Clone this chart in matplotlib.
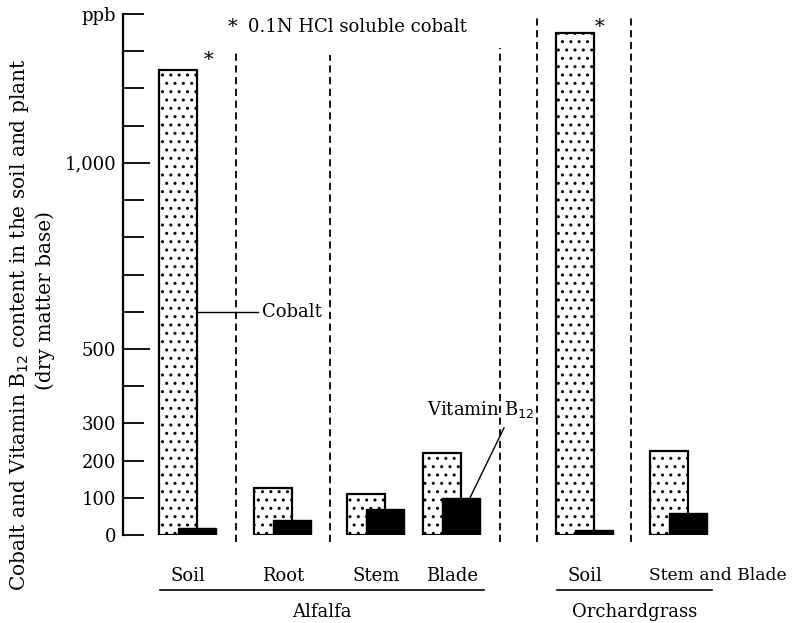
import matplotlib
matplotlib.use("Agg")
import matplotlib.pyplot as plt

plt.rcParams['font.family'] = ['DejaVu Serif']
plt.rcParams['hatch.linewidth'] = 1.0

# cobalt and vitamin B12 (ppb, dry matter base)
parts = ['Soil', 'Root', 'Stem', 'Blade', 'Soil', 'Stem and Blade']
cobalt = [1250, 125, 110, 220, 1350, 225]
vit_b12 = [20, 40, 70, 100, 13, 60]

# layout (horizontal units, axis starts at 0)
bar_left = [36, 131, 224, 300, 433, 527]
bar_w = 38
label_x = [65, 160, 253, 329, 462, 526]
separators = [(113, 1303), (207, 1290), (377, 1309), (414, 1400), (508, 1400)]

fig = plt.figure(figsize=(7.94, 6.23), dpi=100)
ax = fig.add_axes([123 / 794, (623 - 535) / 623, 671 / 794, 521 / 623])
ax.set_xlim(0, 671)
ax.set_ylim(0, 1400)

for x, c, v in zip(bar_left, cobalt, vit_b12):
    ax.bar(x, c, width=bar_w, align='edge', facecolor='white',
           edgecolor='black', linewidth=1.6, hatch='..', zorder=2)
    ax.bar(x + bar_w / 2, v, width=bar_w, align='edge', facecolor='black',
           edgecolor='black', linewidth=1.0, zorder=3)

for xs, top in separators:
    ax.plot([xs, xs], [-20, top], color='black', lw=1.3,
            dashes=(4, 2.5), clip_on=False, zorder=1)

for s in ['top', 'right', 'bottom']:
    ax.spines[s].set_visible(False)
ax.spines['left'].set_linewidth(1.6)

ax.set_yticks([500, 1000], labels=['500', '1,000'])
ax.set_yticks([0, 100, 200, 300, 400, 600, 700, 800, 900, 1100, 1200, 1300, 1400],
              labels=['0', '100', '200', '300', '', '', '', '', '', '', '', '', 'ppb'],
              minor=True)
ax.tick_params(axis='y', which='major', direction='in', length=19.5,
               width=1.3, pad=5, labelsize=13)
ax.tick_params(axis='y', which='minor', direction='in', length=15,
               width=1.3, pad=5, labelsize=13)

ax.set_xticks(label_x, labels=parts)
ax.tick_params(axis='x', length=0, pad=23, labelsize=13)
last = ax.get_xticklabels()[5]
last.set_ha('left')
last.set_fontsize(12.3)

# y-axis title in two lines
fig.text(20 / 794, 1 - 325 / 623, 'Cobalt and Vitamin B$_{12}$ content in the soil and plant',
         rotation=90, ha='center', va='center', fontsize=14.5)
fig.text(45 / 794, 1 - 300 / 623, '(dry matter base)',
         rotation=90, ha='center', va='center', fontsize=14.5)

# crop groups under the category labels
xt = ax.get_xaxis_transform()
for x0, x1, name in [(37, 361, 'Alfalfa'), (434, 589, 'Orchardgrass')]:
    ax.plot([x0, x1], [-0.106, -0.106], color='black', lw=1.2,
            transform=xt, clip_on=False)
    ax.text((x0 + x1) / 2, -0.148, name, transform=xt, ha='center',
            va='center', fontsize=13)

# asterisks and note
ax.text(86, 1276, '*', fontsize=14, ha='center', va='center')
ax.text(477, 1365, '*', fontsize=14, ha='center', va='center')
ax.text(110, 1365, '*', fontsize=14, ha='center', va='center')
ax.text(125, 1365, '0.1N HCl soluble cobalt', fontsize=13, ha='left', va='center')

# leaders
ax.plot([74, 135], [600, 600], color='black', lw=1.0, zorder=4)
ax.text(139, 600, 'Cobalt', fontsize=13, ha='left', va='center')
ax.plot([381, 347], [288, vit_b12[3]], color='black', lw=1.0, zorder=4)
ax.text(304, 336, 'Vitamin B$_{12}$', fontsize=13, ha='left', va='center')

fig.savefig('out.png', dpi=100)
